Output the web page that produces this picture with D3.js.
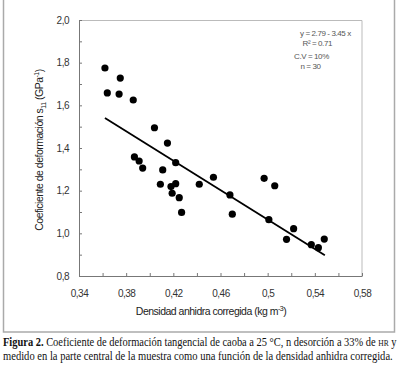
<!DOCTYPE html>
<html>
<head>
<meta charset="utf-8">
<script src="https://cdn.jsdelivr.net/npm/d3@7"></script>
<style>
  body { margin: 0; background: #fff; }
  svg text { font-family: "Liberation Sans", Arial, sans-serif; }
  .tick-label { font-size: 10px; fill: #333; letter-spacing: -0.5px; }
  .note { font-size: 8px; fill: #555; letter-spacing: -0.4px; }
  .title { font-size: 10.5px; fill: #222; letter-spacing: -0.5px; }
  .caption { font-family: "Liberation Serif", "Times New Roman", serif !important; font-size: 11.8px; fill: #111; }
</style>
</head>
<body>
<div id="chart"></div>
<script>
// measured points: density (kg m-3, x) and s11 (GPa-1, y)
const density = [0.362, 0.364, 0.375, 0.374, 0.386, 0.404, 0.415, 0.387, 0.391, 0.394,
                 0.411, 0.422, 0.409, 0.418, 0.422, 0.419, 0.425, 0.427, 0.442, 0.454,
                 0.468, 0.470, 0.497, 0.506, 0.501, 0.522, 0.516, 0.537, 0.543, 0.548];
const s11 = [1.775, 1.658, 1.728, 1.653, 1.625, 1.495, 1.423, 1.358, 1.339, 1.306,
             1.297, 1.331, 1.230, 1.219, 1.233, 1.188, 1.167, 1.098, 1.230, 1.263,
             1.180, 1.090, 1.258, 1.223, 1.064, 1.022, 0.972, 0.947, 0.933, 0.973];

const xTicks = [0.34, 0.38, 0.42, 0.46, 0.5, 0.54, 0.58];
const xMinor = [0.36, 0.40, 0.44, 0.48, 0.52, 0.56];
const yTicks = [0.8, 1.0, 1.2, 1.4, 1.6, 1.8, 2.0];
const yMinor = [0.9, 1.1, 1.3, 1.5, 1.7, 1.9];

// regression y = 2.79 - 3.45 x
const fitA = 2.79, fitB = -3.45;
const fitRange = [0.362, 0.5485];
const notes = ['y =  2.79 - 3.45 x', 'R\u00b2 = 0.71', 'C.V = 10%', 'n = 30'];

const W = 400, H = 366;
const margin = {top: 20, right: 38, bottom: 90, left: 79};
const width = W - margin.left - margin.right;
const height = H - margin.top - margin.bottom;

const svg = d3.select('#chart').append('svg')
    .attr('width', W)
    .attr('height', H);

// outer frame of the figure
svg.append('rect')
    .attr('x', 3.5).attr('y', -1)
    .attr('width', 391).attr('height', 333)
    .attr('fill', 'none')
    .attr('stroke', '#aaa')
    .attr('stroke-width', 1.5);

const chart = svg.append('g')
    .attr('transform', `translate(${margin.left},${margin.top})`);

const xScale = d3.scaleLinear().domain([0.34, 0.58]).range([0, width]);
const yScale = d3.scaleLinear().domain([0.8, 2.0]).range([height, 0]);

// top / right border of the plot box
chart.append('path')
    .attr('d', `M0,0.5H${width}V${height}`)
    .attr('fill', 'none')
    .attr('stroke', '#bbb');

const xAxis = d3.axisBottom(xScale)
    .tickValues(xTicks.concat(xMinor))
    .tickSizeInner(-3)
    .tickSizeOuter(0)
    .tickFormat(d => xTicks.some(t => Math.abs(t - d) < 1e-9) ? d3.format('.2~f')(d).replace('.', ',') : '');

const yAxis = d3.axisLeft(yScale)
    .tickValues(yTicks.concat(yMinor))
    .tickSizeInner(-3)
    .tickSizeOuter(0)
    .tickFormat(d => yTicks.some(t => Math.abs(t - d) < 1e-9) ? d3.format('.1f')(d).replace('.', ',') : '');

const xAxisG = chart.append('g')
    .attr('transform', `translate(0,${height})`)
    .call(xAxis);
const yAxisG = chart.append('g').call(yAxis);

[xAxisG, yAxisG].forEach(g => {
    g.select('.domain').attr('stroke', '#777');
    g.selectAll('.tick line').attr('stroke', '#777');
    g.selectAll('.tick text').attr('class', 'tick-label').attr('font-family', null).attr('font-size', null);
});
xAxisG.selectAll('.tick text').attr('dy', '0').attr('y', 21);
yAxisG.selectAll('.tick text').attr('x', -10);

// regression line
chart.append('line')
    .attr('x1', xScale(fitRange[0])).attr('y1', yScale(fitA + fitB * fitRange[0]))
    .attr('x2', xScale(fitRange[1])).attr('y2', yScale(fitA + fitB * fitRange[1]))
    .attr('stroke', '#000')
    .attr('stroke-width', 1.8);

// points
chart.selectAll('.dot')
    .data(density.map((d, i) => ({x: d, y: s11[i]})))
    .enter().append('circle')
    .attr('class', 'dot')
    .attr('cx', d => xScale(d.x))
    .attr('cy', d => yScale(d.y))
    .attr('r', 3.6)
    .attr('fill', '#000');

// statistics box text
const noteX = [300, 302.5, 294, 300.5];
const noteY = [35.5, 46, 58.5, 69];
svg.selectAll('.note')
    .data(notes)
    .enter().append('text')
    .attr('class', 'note')
    .attr('x', (d, i) => noteX[i])
    .attr('y', (d, i) => noteY[i])
    .text(d => d);

// axis titles
const xt = svg.append('text')
    .attr('class', 'title')
    .attr('x', 211).attr('y', 315)
    .attr('text-anchor', 'middle');
xt.append('tspan').text('Densidad anhidra corregida  (kg m');
xt.append('tspan').attr('dy', -4).attr('font-size', 7).text('-3');
xt.append('tspan').attr('dy', 4).text(')');

const yt = svg.append('text')
    .attr('class', 'title')
    .attr('transform', 'translate(43,150) rotate(-90)')
    .attr('text-anchor', 'middle');
yt.append('tspan').text('Coeficiente de deformación s');
yt.append('tspan').attr('dy', 3).attr('font-size', 7).text('11');
yt.append('tspan').attr('dy', -3).text(' (GPa');
yt.append('tspan').attr('dy', -4).attr('font-size', 7).text('-1');
yt.append('tspan').attr('dy', 4).text(')');

// caption: each line squeezed horizontally to the figure width
function fitLine(g, target) {
    const w = g.select('text').node().getComputedTextLength();
    g.attr('transform', g.attr('transform') + ` scale(${target / w},1)`);
}

const g1 = svg.append('g').attr('transform', 'translate(3,346)');
const c1 = g1.append('text').attr('class', 'caption');
c1.append('tspan').attr('font-weight', 'bold').text('Figura 2.');
c1.append('tspan').text(' Coeficiente de deformación tangencial de caoba a 25 °C, n desorción a 33% de ');
c1.append('tspan').attr('font-size', 8.5).text('HR');
c1.append('tspan').text(' y');
fitLine(g1, 394);

const g2 = svg.append('g').attr('transform', 'translate(3,360)');
g2.append('text').attr('class', 'caption')
    .text('medido en la parte central de la muestra como una función de la densidad anhidra corregida.');
fitLine(g2, 390);
</script>
</body>
</html>
